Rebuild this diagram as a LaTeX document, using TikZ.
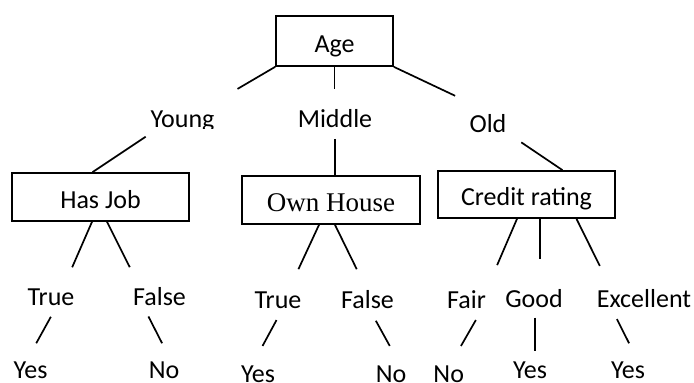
\documentclass[tikz,border=0pt]{standalone}
\usepackage{fontspec}
\setmainfont{Carlito}
\newfontfamily\housefont{Liberation Serif}
\begin{document}
\begin{tikzpicture}[x=1pt, y=-1pt, line width=1.7pt,
  every node/.style={font=\fontsize{26}{30}\selectfont, inner sep=0pt},
  lbl/.style={anchor=base, text height=17pt, text depth=0pt},
  tbox/.style={draw, minimum width=177pt, text height=35pt, text depth=13pt}]

\useasboundingbox (0,0) rectangle (694,383);

% boxes
\node[tbox, minimum width=117pt, text height=36pt, text depth=14pt] (age) at (334.5,41){Age};
\node[tbox] (hasjob) at (100.5,197){Has Job};
\node[tbox, minimum width=178pt, font=\housefont\fontsize{27}{30}\selectfont] (house) at (331,200){Own House};
\node[tbox, text height=34pt] (credit) at (526.5,194.5){Credit rating};

% age values
\begin{scope}
\clip (0,0) rectangle (694,128);
\node[lbl] (young) at (182.5,127){Young};
\end{scope}
\node[lbl] (middle) at (335,127){Middle};
\node[lbl] (old) at (488,132){Old};

% attribute values
\node[lbl] (jobT) at (51,305){True};
\node[lbl] (jobF) at (159.5,305){False};
\node[lbl] (houseT) at (278,308){True};
\node[lbl] (houseF) at (367.5,308){False};
\node[lbl] (fair) at (466.5,308){Fair};
\node[lbl] (good) at (534,307){Good};
\node[lbl] (excel) at (644,307){Excellent};

% leaves
\node[lbl] (jobTyes) at (30.5,378){Yes};
\node[lbl] (jobFno) at (164,378){No};
\node[lbl] (houseTyes) at (258,382){Yes};
\node[lbl] (houseFno) at (391,382){No};
\node[lbl] (fairno) at (448.7,382){No};
\node[lbl] (goodyes) at (530,378){Yes};
\node[lbl] (excelyes) at (628,378){Yes};

% top level
\draw[shorten >=40pt] (age.south west) -- ([xshift=20.5pt]young.north);
\draw[shorten >=20pt] (age.south) -- (age.south |- middle.north);
\draw[shorten >=43pt] (age.south east) -- ([xshift=6pt]old.north);

\draw[shorten <=16pt] ([xshift=-23.5pt]young.south) -- ([xshift=-8pt]hasjob.north);
\draw[shorten <=11pt] (middle.south) -- (middle.south |- house.north);
\draw[shorten <=17pt] ([xshift=19.2pt]old.south) -- ([xshift=36pt]credit.north);

% second level
\draw[shorten >=21.7pt] ([xshift=-8.5pt]hasjob.south) -- ([xshift=12.5pt]jobT.north);
\draw[shorten >=22.3pt] ([xshift=6.5pt]hasjob.south) -- ([xshift=-19.7pt]jobF.north);
\draw[shorten >=23.1pt] ([xshift=-12pt]house.south) -- ([xshift=10.7pt]houseT.north);
\draw[shorten >=23.3pt] ([xshift=4pt]house.south) -- ([xshift=-0.5pt]houseF.north);
\draw[shorten >=27.2pt] ([xshift=-9.5pt]credit.south) -- ([xshift=19.9pt]fair.north);
\draw[shorten >=30pt] ([xshift=13.5pt]credit.south) -- ([xshift=6pt]good.north);
\draw[shorten >=25.9pt] ([xshift=50pt]credit.south) -- ([xshift=-32.7pt]excel.north);

% leaves
\draw[shorten <=12.5pt, shorten >=19.3pt] ([xshift=5.9pt]jobT.south) -- ([xshift=-3.6pt]jobTyes.north);
\draw[shorten <=11.9pt, shorten >=19pt] ([xshift=-16.5pt]jobF.south) -- ([xshift=6.7pt]jobFno.north);
\draw[shorten <=12.8pt, shorten >=20.7pt] ([xshift=4.6pt]houseT.south) -- ([xshift=-5.3pt]houseTyes.north);
\draw[shorten <=13.6pt, shorten >=20.8pt] ([xshift=1.8pt]houseF.south) -- ([xshift=8.8pt]houseFno.north);
\draw[shorten <=12.9pt, shorten >=21pt] ([xshift=15.8pt]fair.south) -- ([xshift=1.8pt]fairno.north);
\draw[shorten <=9.7pt, shorten >=9.3pt] ([xshift=1pt]good.south) -- ([xshift=5pt]goodyes.north);
\draw[shorten <=12.6pt, shorten >=18.9pt] ([xshift=-32.8pt]excel.south) -- ([xshift=9.6pt]excelyes.north);

\end{tikzpicture}
\end{document}
